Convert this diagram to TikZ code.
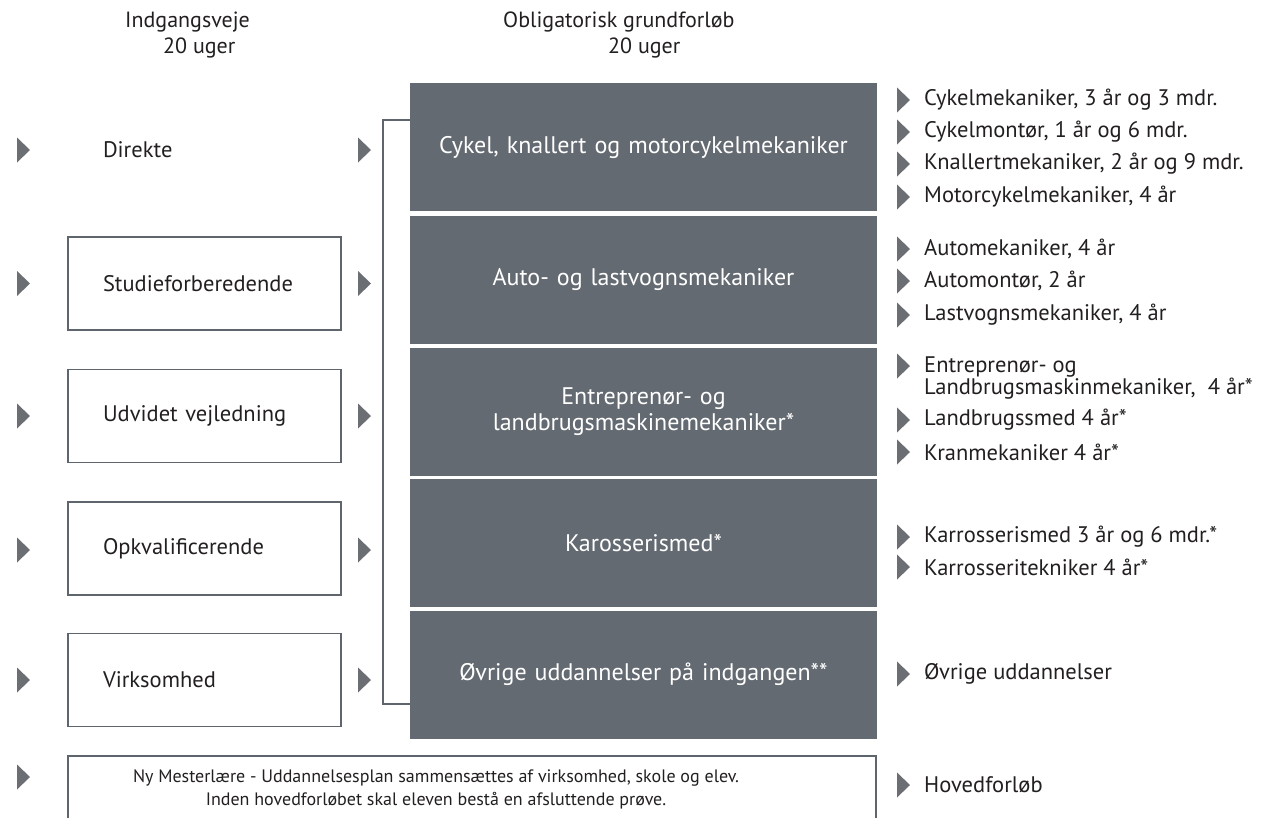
\documentclass[tikz,border=0pt]{standalone}
\usepackage{fontspec}
\setmainfont{PT Sans}
\definecolor{darkbox}{HTML}{646A71}
\definecolor{linegray}{HTML}{5F656C}
\definecolor{trigray}{HTML}{6B6E73}
\definecolor{txt}{HTML}{231F20}
\newcommand{\arrtri}[2]{\fill[trigray] ({#1},{#2-12.5}) -- ({#1+13},{#2}) -- ({#1},{#2+12.5}) -- cycle;}
\begin{document}
\begin{tikzpicture}[x=1pt,y=-1pt,
  every node/.style={text=txt, inner sep=0pt},
  hdr/.style={font=\fontsize{22}{26}\selectfont, anchor=west},
  entrybox/.style={draw=linegray, line width=1.5pt, minimum width=273pt, minimum height=93pt,
     text width=203pt, inner xsep=35pt, align=left, font=\fontsize{22.5}{26}\selectfont},
  entryplain/.style={entrybox, draw=none},
  grund/.style={fill=darkbox, text=white, minimum width=467pt, minimum height=128pt,
     text width=450pt, align=center, font=\fontsize{24}{26}\selectfont},
  item/.style={anchor=west, font=\fontsize{22.5}{20}\selectfont, align=left},
  mesterbox/.style={minimum width=808pt, minimum height=68pt},
  mestertext/.style={align=center, font=\fontsize{18}{23}\selectfont},
  bracket/.style={draw=linegray, line width=1.8pt}
]
\useasboundingbox (0,0) rectangle (1263,817);
\clip (0,0) rectangle (1263,817);

% headers
\node[hdr] (h1) at (125,22) {Indgangsveje};
\node[hdr] (h2) at (163,48) {20 uger};
\node[hdr] (h3) at (503,22) {Obligatorisk grundforløb};
\node[hdr] (h4) at (608,48) {20 uger};

% entry paths
\node[entryplain] (e1) at (204.5,150) {Direkte};
\node[entrybox] (e2) at (204.5,283.5) {Studieforberedende};
\node[entrybox] (e3) at (204.5,416) {Udvidet vejledning};
\node[entrybox] (e4) at (204.5,548.5) {Opkvalificerende};
\node[entrybox] (e5) at (204.5,680) {Virksomhed};

\foreach \yy in {150,283.5,416,550,680} {
  \arrtri{17}{\yy}
  \arrtri{358}{\yy}
}
\arrtri{17}{777}

% grundforloeb boxes
\node[grund] (g1) at (643.5,147) {Cykel, knallert og motorcykelmekaniker};
\node[grund] (g2) at (643.5,280) {Auto- og lastvognsmekaniker};
\node[grund] (g3) at (643.5,411.5) {Entreprenør- og\\landbrugsmaskinemekaniker*};
\node[grund] (g4) at (643.5,543) {Karosserismed*};
\node[grund] (g5) at (643.5,674.5) {Øvrige uddannelser på indgangen**};

% bracket
\coordinate (bt) at (383,120);
\coordinate (bb) at (383,704);
\draw[bracket] (g1.west |- bt) -- (bt) -- (bb) -- (g5.west |- bb);

% outcome list
\foreach \yy/\nm/\tx in {100/l1/{Cykelmekaniker, 3 år og 3 mdr.},
                        132/l2/{Cykelmontør, 1 år og 6 mdr.},
                        164/l3/{Knallertmekaniker, 2 år og 9 mdr.},
                        197/l4/{Motorcykelmekaniker, 4 år},
                        249/l5/{Automekaniker, 4 år},
                        281/l6/{Automontør, 2 år},
                        315/l7/{Lastvognsmekaniker, 4 år},
                        420/l9/{Landbrugssmed 4 år*},
                        452/l10/{Kranmekaniker 4 år*},
                        537/l11/{Karrosserismed 3 år og 6 mdr.*},
                        567/l12/{Karrosseritekniker 4 år*},
                        674/l13/{Øvrige uddannelser},
                        785/l14/{Hovedforløb}} {
  \arrtri{897}{\yy}
  \node[item] (\nm) at (924,\yy) {\tx};
}
\arrtri{897}{366}
\node[item] (l8) at (924,378) {Entreprenør- og\\Landbrugsmaskinmekaniker,\ \ 4 år*};

% Ny Mesterlaere
\node[mesterbox] (mbox) at (472,790) {};
\draw[draw=linegray, line width=1.5pt] (mbox.south west) -- (mbox.north west) -- (mbox.north east) -- (mbox.south east);
\node[mestertext] (mtext) at (436,789) {Ny Mesterlære - Uddannelsesplan sammensættes af virksomhed, skole og elev.\\Inden hovedforløbet skal eleven bestå en afsluttende prøve.};
\end{tikzpicture}
\end{document}
